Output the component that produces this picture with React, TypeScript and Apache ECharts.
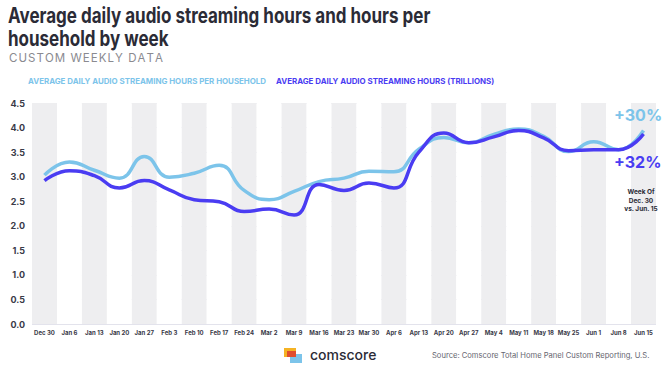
import React, { useEffect, useRef } from "react";
import * as echarts from "echarts";

const weeks = ["Dec 30","Jan 6","Jan 13","Jan 20","Jan 27","Feb 3","Feb 10","Feb 17","Feb 24","Mar 2","Mar 9","Mar 16","Mar 23","Mar 30","Apr 6","Apr 13","Apr 20","Apr 27","May 4","May 11","May 18","May 25","Jun 1","Jun 8","Jun 15"];
const perHousehold = [3.03,3.30,3.13,2.97,3.41,2.99,3.07,3.23,2.72,2.53,2.70,2.90,2.97,3.11,3.10,3.56,3.80,3.69,3.86,3.97,3.82,3.51,3.71,3.55,3.94];
const trillions = [2.92,3.12,3.02,2.77,2.92,2.73,2.53,2.49,2.29,2.34,2.22,2.84,2.72,2.87,2.77,3.50,3.89,3.69,3.81,3.94,3.79,3.53,3.55,3.55,3.87];
const yTicks = [0, 4.5, 0.5];

const LIGHT = "#7CC4EA";
const DARK = "#4A3CF2";

export default function App() {
  const ref = useRef<HTMLDivElement>(null);
  useEffect(() => {
    const chart = echarts.init(ref.current!, null, { renderer: "svg" });
    const font = "Inter, 'Noto Sans', sans-serif";
    const hair = "\u200A";
    const subtitle = "CUSTOM WEEKLY DATA".split("").join(hair);
    chart.setOption({
      animation: false,
      backgroundColor: "#ffffff",
      grid: { left: 32, right: 9, top: 103, bottom: 47 },
      xAxis: {
        type: "category",
        data: weeks,
        boundaryGap: true,
        axisLine: { show: false },
        axisTick: { show: false },
        axisLabel: { interval: 0, fontSize: 6, fontWeight: "bold", color: "#3a3a48", margin: 5, fontFamily: font },
        splitArea: { show: true, interval: 0, areaStyle: { color: ["#eeeef0", "#ffffff"] } },
        splitLine: { show: false },
      },
      yAxis: {
        type: "value",
        min: yTicks[0],
        max: yTicks[1],
        interval: yTicks[2],
        axisLine: { show: false },
        axisTick: { show: false },
        axisLabel: { fontSize: 9, fontWeight: "bold", color: "#3a3a48", margin: 7, fontFamily: font, formatter: (v: number) => v.toFixed(1) },
        splitLine: { show: true, lineStyle: { color: "#e3e3ec", width: 1 } },
      },
      series: [
        { name: "per household", type: "line", data: perHousehold, smooth: 0.5, symbol: "none", lineStyle: { color: LIGHT, width: 3.5 }, z: 3 },
        { name: "trillions", type: "line", data: trillions, smooth: 0.5, symbol: "none", lineStyle: { color: DARK, width: 3.5 }, z: 4 },
      ],
      graphic: [
        { type: "text", x: 8, y: 4, scaleX: 0.81, z: 100, style: { text: "Average daily audio streaming hours and hours per\nhousehold by week", font: `bold 21px ${font}`, fill: "#2b2b36", lineHeight: 23 } },
        { type: "text", x: 9, y: 52, z: 100, style: { text: subtitle, font: `11.5px ${font}`, fill: "#8a8a90" } },
        { type: "text", x: 28, y: 77, z: 100, style: { text: "AVERAGE DAILY AUDIO STREAMING HOURS PER HOUSEHOLD", font: `bold 7.9px ${font}`, fill: LIGHT } },
        { type: "text", x: 276, y: 77, z: 100, style: { text: "AVERAGE DAILY AUDIO STREAMING HOURS (TRILLIONS)", font: `bold 7.9px ${font}`, fill: DARK } },
        { type: "text", x: 614, y: 107, z: 100, style: { text: "+30%", font: `bold 16px ${font}`, fill: LIGHT } },
        { type: "text", x: 614, y: 154, z: 100, style: { text: "+32%", font: `bold 16px ${font}`, fill: DARK } },
        { type: "text", x: 641, y: 188, z: 100, style: { text: "Week Of\nDec. 30\nvs. Jun. 15", font: `bold 6.5px ${font}`, fill: "#2b2b36", align: "center", lineHeight: 8.5 } },
        { type: "rect", z: 100, shape: { x: 284, y: 348, width: 12, height: 9 }, style: { fill: "#F5B324" } },
        { type: "rect", z: 100, shape: { x: 290, y: 354, width: 12, height: 9 }, style: { fill: "#7CC4EA" } },
        { type: "rect", z: 100, shape: { x: 287, y: 351, width: 9, height: 6 }, style: { fill: "#E04E2E" } },
        { type: "text", x: 310, y: 347, z: 100, style: { text: "comscore", font: `500 14px ${font}`, fill: "#2b2b36" } },
        { type: "text", x: 432, y: 351, z: 100, style: { text: "Source: Comscore Total Home Panel Custom Reporting, U.S.", font: `7.6px ${font}`, fill: "#666670" } },
      ],
    });
    return () => chart.dispose();
  }, []);
  return <div ref={ref} style={{ width: 665, height: 371, position: "absolute", left: 0, top: 0 }} />;
}
